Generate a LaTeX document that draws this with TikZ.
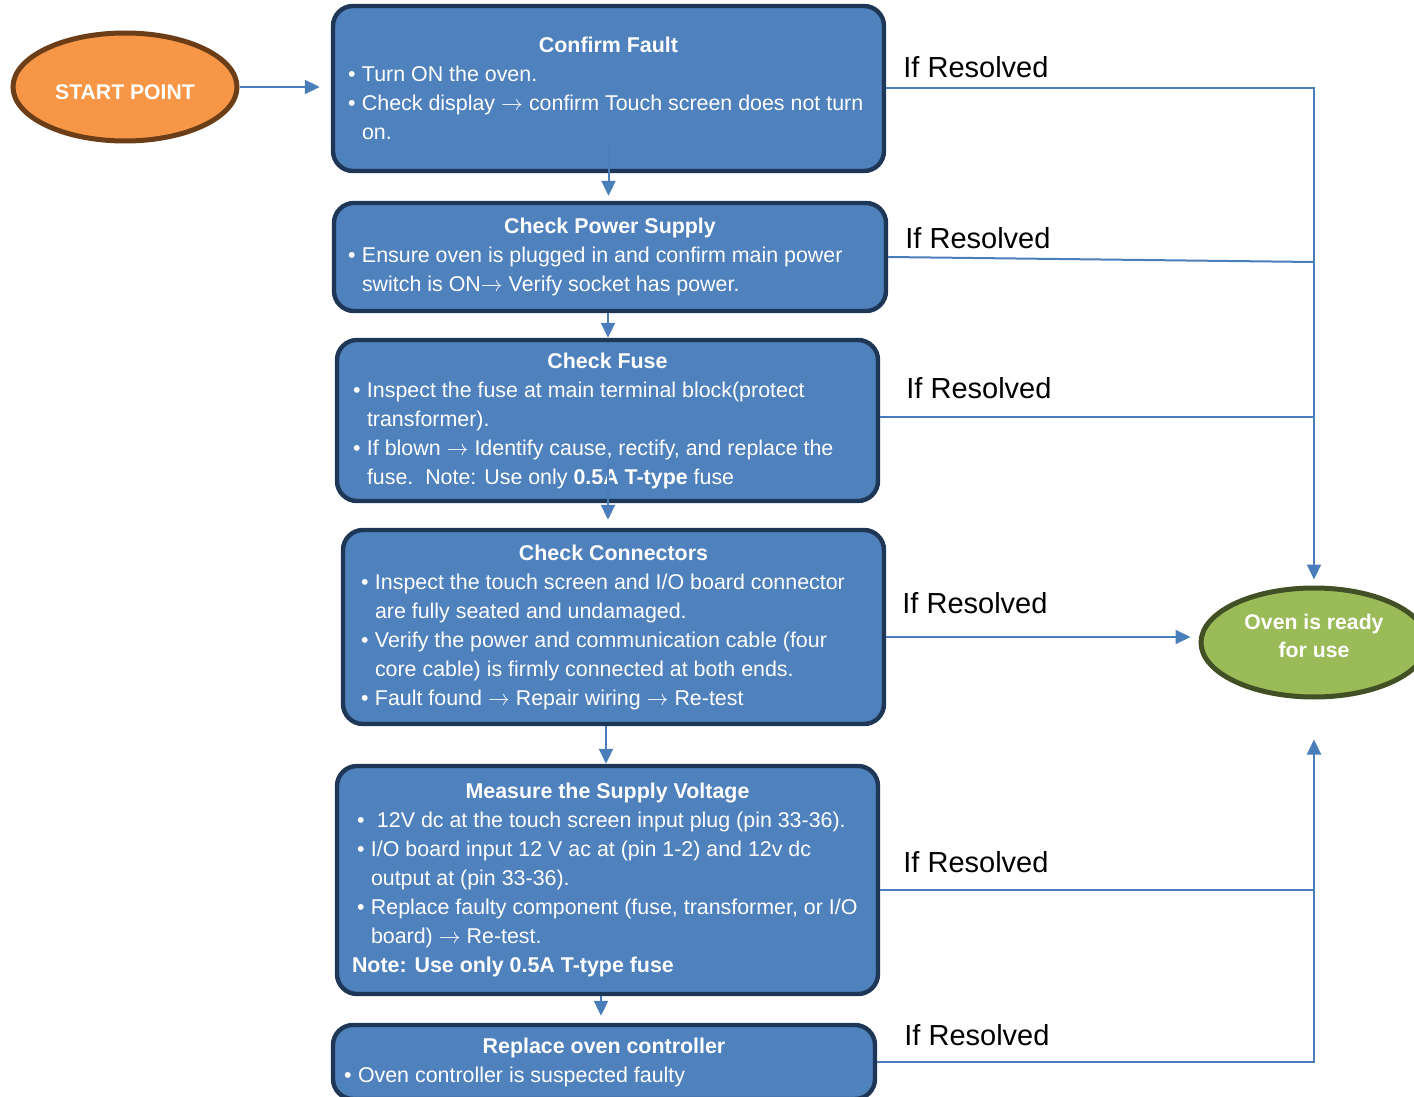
\documentclass[tikz,border=0pt]{standalone}
\usepackage{fontspec}
\setmainfont{Liberation Sans}
\usetikzlibrary{arrows.meta, positioning, shapes.geometric}
\definecolor{cboxfill}{HTML}{4F81BD}
\definecolor{cboxline}{HTML}{1F3756}
\definecolor{clink}{HTML}{4A7EBB}
\definecolor{corange}{HTML}{F79646}
\definecolor{cbrown}{HTML}{6B3E17}
\definecolor{cgreen}{HTML}{9BBB59}
\definecolor{cdkgreen}{HTML}{415125}
\setlength{\parindent}{0pt}
\newlength{\bx}
\newcommand{\ra}{\ensuremath{\rightarrow}}
\newcommand{\bitem}[1]{\par\hspace*{\bx}\makebox[7pt][l]{\textbullet}#1}
\newcommand{\bcont}[1]{\par\hspace*{\dimexpr\bx+7pt\relax}#1}
\newcommand{\btitle}[1]{\makebox[\linewidth]{\bfseries #1}}
\tikzset{
  every picture/.style={font=\fontsize{10.7}{14.5}\selectfont},
  box/.style={draw=cboxline, fill=cboxfill, line width=2.2pt, rounded corners=10pt, text=white, align=flush left, inner xsep=3pt, inner ysep=0pt, text width=#1},
  bulletpos/.style={execute at begin node={\setlength{\bx}{#1}}},
  oval/.style={ellipse, line width=2.5pt, inner sep=0pt, text=white, align=center, font=\fontsize{10.6}{14}\selectfont\bfseries},
  link/.style={draw=clink, line width=1pt, -{Triangle[length=7.5pt, width=7pt]}},
  rail/.style={draw=clink, line width=1pt},
  resolved/.style={anchor=base west, inner sep=0pt, font=\fontsize{14.5}{17}\selectfont},
}
\begin{document}
\begin{tikzpicture}[x=0.5pt, y=-0.5pt]
  \useasboundingbox (0,0) rectangle (1414,1097);
  \node[oval, fill=corange, draw=cbrown, minimum width=112pt, minimum height=54pt] (start) at (125,87) {\raisebox{-6.3pt}[0pt][0pt]{START POINT}};
  \node[box=269.5pt, bulletpos=4.5pt, minimum height=82.5pt] (fault) at (608.5,88.5)
    {\btitle{Confirm Fault}\bitem{Turn ON the oven.}\bitem{Check display \ra{} confirm Touch screen does not turn}\bcont{on.}};
  \node[box=270pt, bulletpos=4pt, minimum height=54pt] (power) at (610,257)
    {\btitle{Check Power Supply}\bitem{Ensure oven is plugged in and confirm main power}\bcont{switch is ON\ra{} Verify socket has power.}};
  \node[box=264.5pt, bulletpos=5pt, minimum height=80.5pt] (fuse) at (607.5,420.5)
    {\btitle{Check Fuse}\bitem{Inspect the fuse at main terminal block(protect}\bcont{transformer).}\bitem{If blown \ra{} Identify cause, rectify, and replace the}\bcont{fuse.\ \ Note: Use only \textbf{0.5A T-type} fuse}};
  \node[box=264.5pt, bulletpos=6pt, minimum height=97pt] (conn) at (613.5,627)
    {\btitle{Check Connectors}\bitem{Inspect the touch screen and I/O board connector}\bcont{are fully seated and undamaged.}\bitem{Verify the power and communication cable (four}\bcont{core cable) is firmly connected at both ends.}\bitem{Fault found \ra{} Repair wiring \ra{} Re-test}};
  \node[box=264.5pt, bulletpos=7pt, minimum height=114pt] (volt) at (607.5,880)
    {\btitle{Measure the Supply Voltage}\bitem{\hspace*{3pt}12V dc at the touch screen input plug (pin 33-36).}\bitem{I/O board input 12 V ac at (pin 1-2) and 12v dc}\bcont{output at (pin 33-36).}\bitem{Replace faulty component (fuse, transformer, or I/O}\bcont{board) \ra{} Re-test.}\par\hspace*{\dimexpr\bx-2.5pt\relax}\textbf{Note: Use only 0.5A T-type fuse}};
  \node[box=265pt, bulletpos=2.5pt, minimum height=37pt] (ctrl) at (604,1062)
    {\btitle{Replace oven controller}\bitem{Oven controller is suspected faulty}};
  \node[oval, fill=cgreen, draw=cdkgreen, minimum width=113pt, minimum height=54.5pt] (ready) at (1314,642.5) {\makebox[0pt]{\raisebox{-7.5pt}[0pt][0pt]{\parbox[b]{110pt}{\centering Oven is ready\\for use}}}};

  \node[resolved] (res1) at (903,78) {If Resolved};
  \node[resolved] (res2) at (905,249) {If Resolved};
  \node[resolved] (res3) at (906,398) {If Resolved};
  \node[resolved] (res4) at (902,613) {If Resolved};
  \node[resolved] (res5) at (903,872) {If Resolved};
  \node[resolved] (res6) at (904,1045) {If Resolved};

  % main chain
  \draw[link, shorten >=5.5pt] (start.east) -- (start.east -| fault.west);
  \draw[link, shorten >=2.5pt] ([yshift=14pt]fault.south) -- (fault.south |- power.north);
  \draw[link] ([xshift=-1pt]power.south) -- ([xshift=-1pt]power.south |- fuse.north);
  \draw[link, shorten >=4pt] ([xshift=0.25pt, yshift=21.5pt]fuse.south) -- ([xshift=0.25pt]fuse.south |- conn.north);
  \draw[link] ([xshift=-3.75pt]conn.south) -- ([xshift=-3.75pt]conn.south |- volt.north);
  \draw[link, shorten >=3.5pt] ([xshift=-3.25pt]volt.south) -- ([xshift=-3.25pt]volt.south |- ctrl.north);

  % resolved branches
  \draw[link, shorten >=3pt] (fault.east) -| (ready.north);
  \draw[rail] (power.east) -- ([yshift=-2.5pt]power.east -| ready.north);
  \draw[rail] ([yshift=1.75pt]fuse.east) -- ([yshift=1.75pt]fuse.east -| ready.north);
  \draw[link, shorten >=4pt] ([yshift=-5pt]conn.east) -- ([yshift=-5pt]conn.east -| ready.west);
  \draw[rail] ([yshift=-5pt]volt.east) -- ([yshift=-5pt]volt.east -| ready.south);
  \draw[link, shorten >=20pt] (ctrl.east) -| (ready.south);
\end{tikzpicture}
\end{document}
